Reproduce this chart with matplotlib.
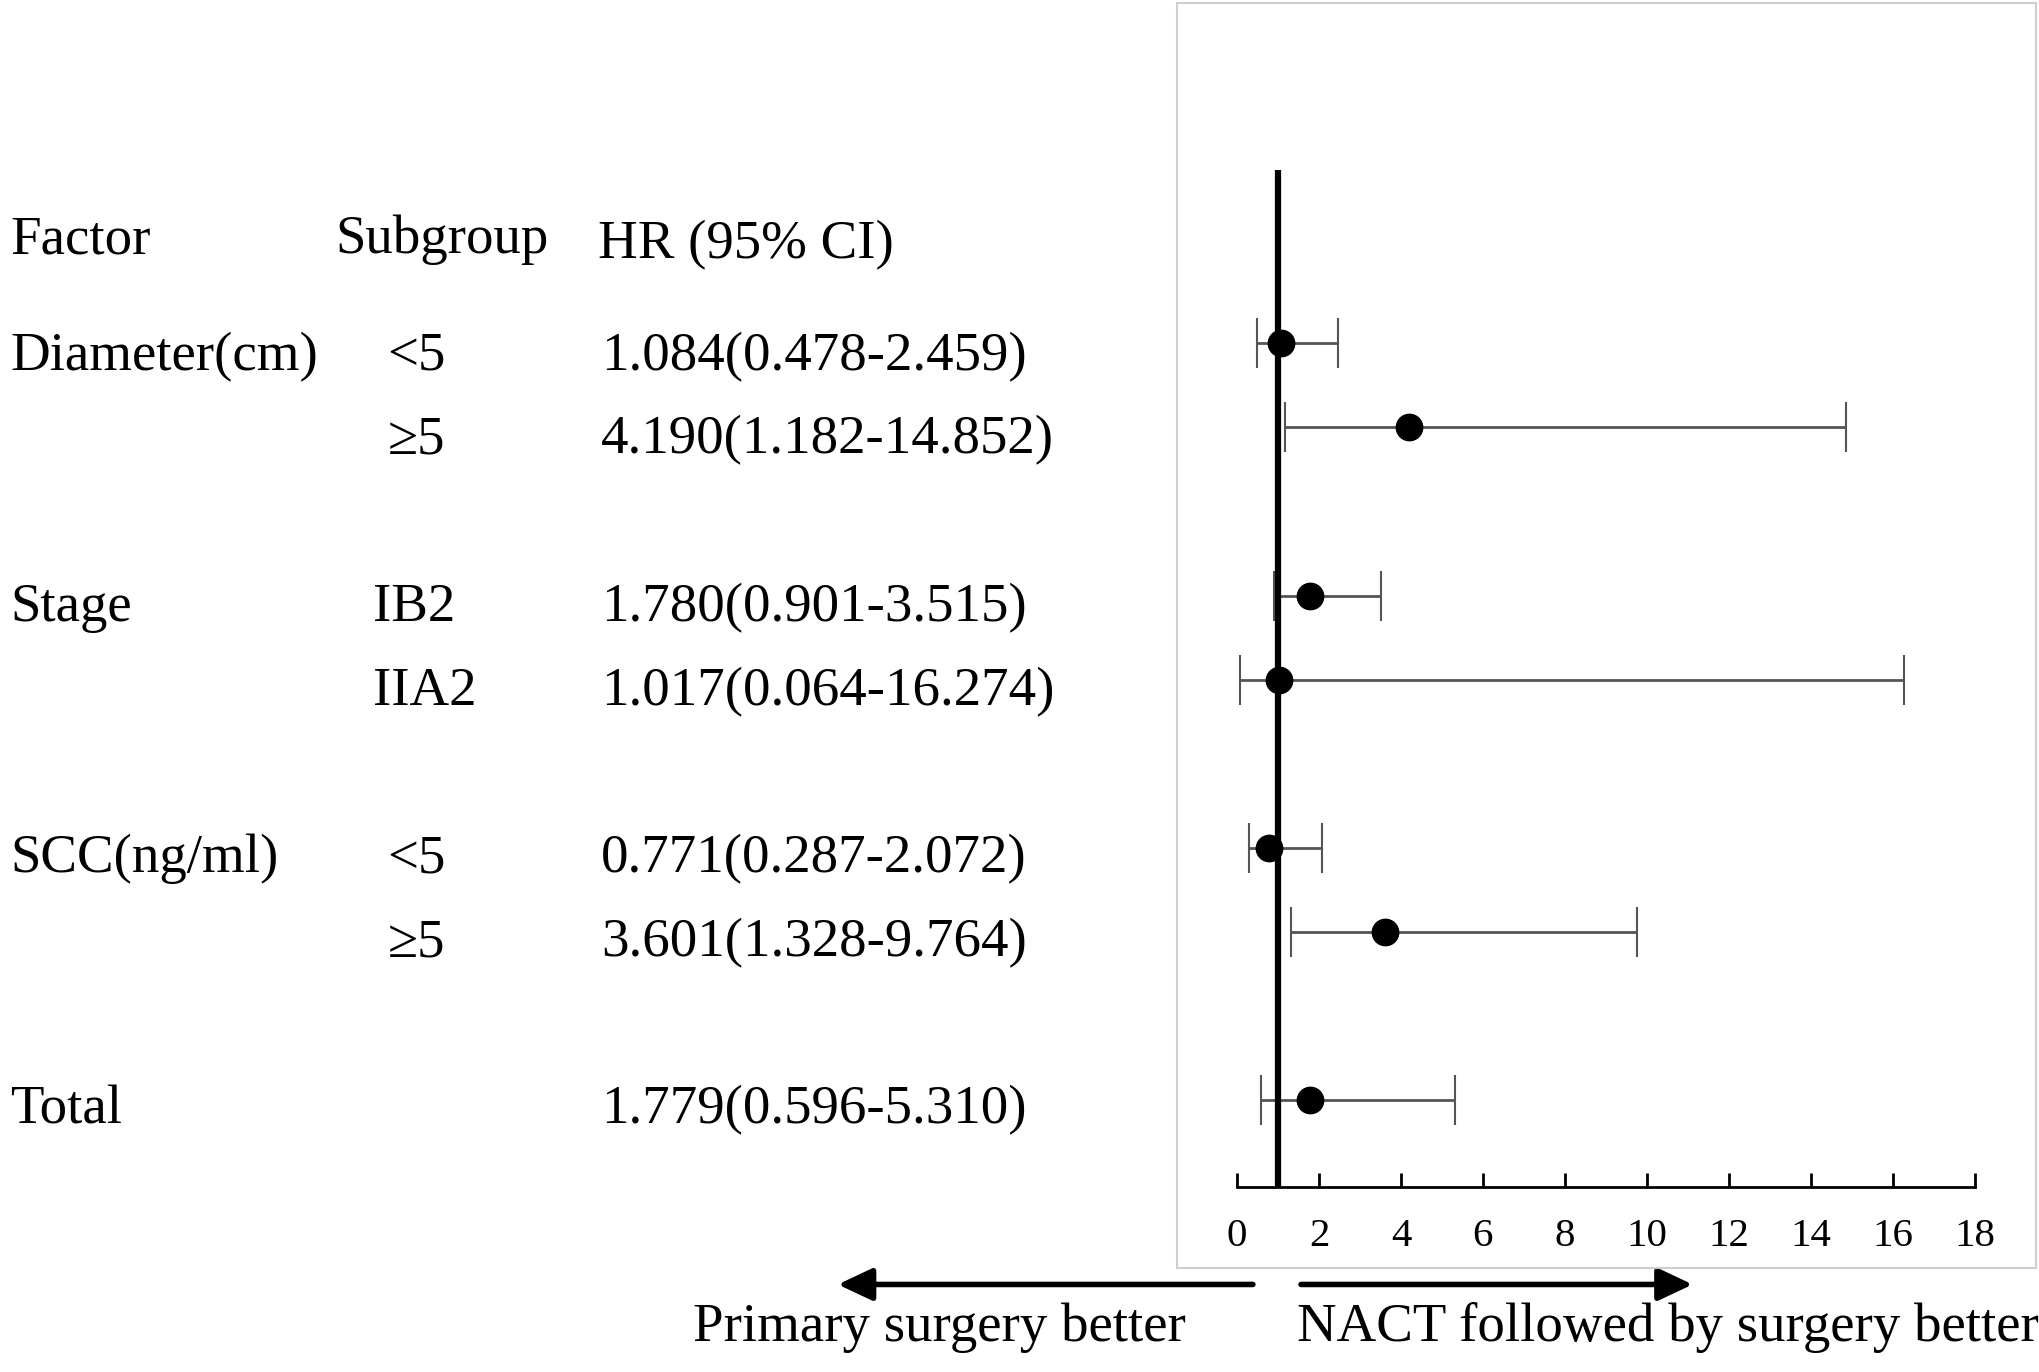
import matplotlib
matplotlib.use("Agg")
import matplotlib.pyplot as plt
import matplotlib.transforms as mtrans
from matplotlib.patches import Rectangle, FancyArrowPatch

plt.rcParams['font.family'] = ['Liberation Serif', 'DejaVu Serif']

factors = ["Diameter(cm)", "", "Stage", "", "SCC(ng/ml)", "", "Total"]
subgroups = ["<5", "≥5", "IB2", "IIA2", "<5", "≥5", ""]
hr = [1.084, 4.190, 1.780, 1.017, 0.771, 3.601, 1.779]
lo = [0.478, 1.182, 0.901, 0.064, 0.287, 1.328, 0.596]
hi = [2.459, 14.852, 3.515, 16.274, 2.072, 9.764, 5.310]
rows = [0, 1, 3, 4, 6, 7, 9]
xticks = [0, 2, 4, 6, 8, 10, 12, 14, 16, 18]
headers = ["Factor", "Subgroup", "HR (95% CI)"]
left_label = "Primary surgery better"
right_label = "NACT followed by surgery better"

W, H = 2040, 1372
S = 1372 / 1050.0
fig = plt.figure(figsize=(W / 100, H / 100), dpi=100)

def fy(d):
    return 1 - d * S / H

def fx(d):
    return d * (W / 1568.0) / W

# outer light-gray box
fig.patches.append(Rectangle((1177 / W, 1 - 1268 / H), (2036 - 1177) / W, (1268 - 3) / H,
                             transform=fig.transFigure, fill=False,
                             edgecolor='#cfcfcf', linewidth=1.5))

ax = fig.add_axes([1237 / W, 1 - 1187 / H, (1975 - 1237) / W, (1187 - 170) / H])
ax.set_xlim(0, 18)
ax.set_ylim(10.03, -2.06)
for s in ['top', 'right', 'left']:
    ax.spines[s].set_visible(False)
ax.spines['bottom'].set_linewidth(2)
ax.set_yticks([])
ax.set_xticks(xticks)
ax.tick_params(axis='x', direction='in', length=10, width=2, pad=22, labelsize=29.5)
ax.patch.set_alpha(0)

ax.axvline(1, color='black', lw=4.5, zorder=3)
ci_lo = [h - l for h, l in zip(hr, lo)]
ci_hi = [u - h for h, u in zip(hr, hi)]
ax.errorbar(hr, rows, xerr=[ci_lo, ci_hi], fmt='none', ecolor='#555555',
            elinewidth=2, capsize=18, capthick=1.5, zorder=2)
ax.plot(hr, rows, 'o', color='black', markersize=19, zorder=4)

fs = 39.5
# header baselines (display px of the reference view)
fig.text(fx(8), fy(194), headers[0], fontsize=fs, va='baseline', ha='left')
fig.text(fx(258), fy(194), headers[1], fontsize=fs, va='baseline', ha='left')
fig.text(fx(460), fy(198), headers[2], fontsize=fs, va='baseline', ha='left')
for f, sg, h, l, u, r in zip(factors, subgroups, hr, lo, hi, rows):
    yb = fy(283 + r * 64.1)
    if f:
        fig.text(fx(8), yb, f, fontsize=fs, va='baseline', ha='left')
    if sg:
        xs = fx(298) if sg in ("<5", "≥5") else fx(287)
        fig.text(xs, yb, sg, fontsize=fs, va='baseline', ha='left')
    fig.text(fx(462), yb, f"{h:.3f}({l:.3f}-{u:.3f})", fontsize=fs,
             va='baseline', ha='left')

# arrows
ya = fy(983)
fig.add_artist(FancyArrowPatch((fx(963), ya), (fx(644), ya),
               transform=fig.transFigure, arrowstyle='-|>,head_length=0.7,head_width=0.33',
               mutation_scale=30, lw=4, color='black', shrinkA=0, shrinkB=0))
fig.add_artist(FancyArrowPatch((fx(1000), ya), (fx(1301), ya),
               transform=fig.transFigure, arrowstyle='-|>,head_length=0.7,head_width=0.33',
               mutation_scale=30, lw=4, color='black', shrinkA=0, shrinkB=0))
fig.text(fx(722), fy(1016), left_label, fontsize=fs, ha='center', va='center')
fig.text(fx(997), fy(1016), right_label, fontsize=fs, ha='left', va='center')

fig.savefig("out.png", dpi=100)
